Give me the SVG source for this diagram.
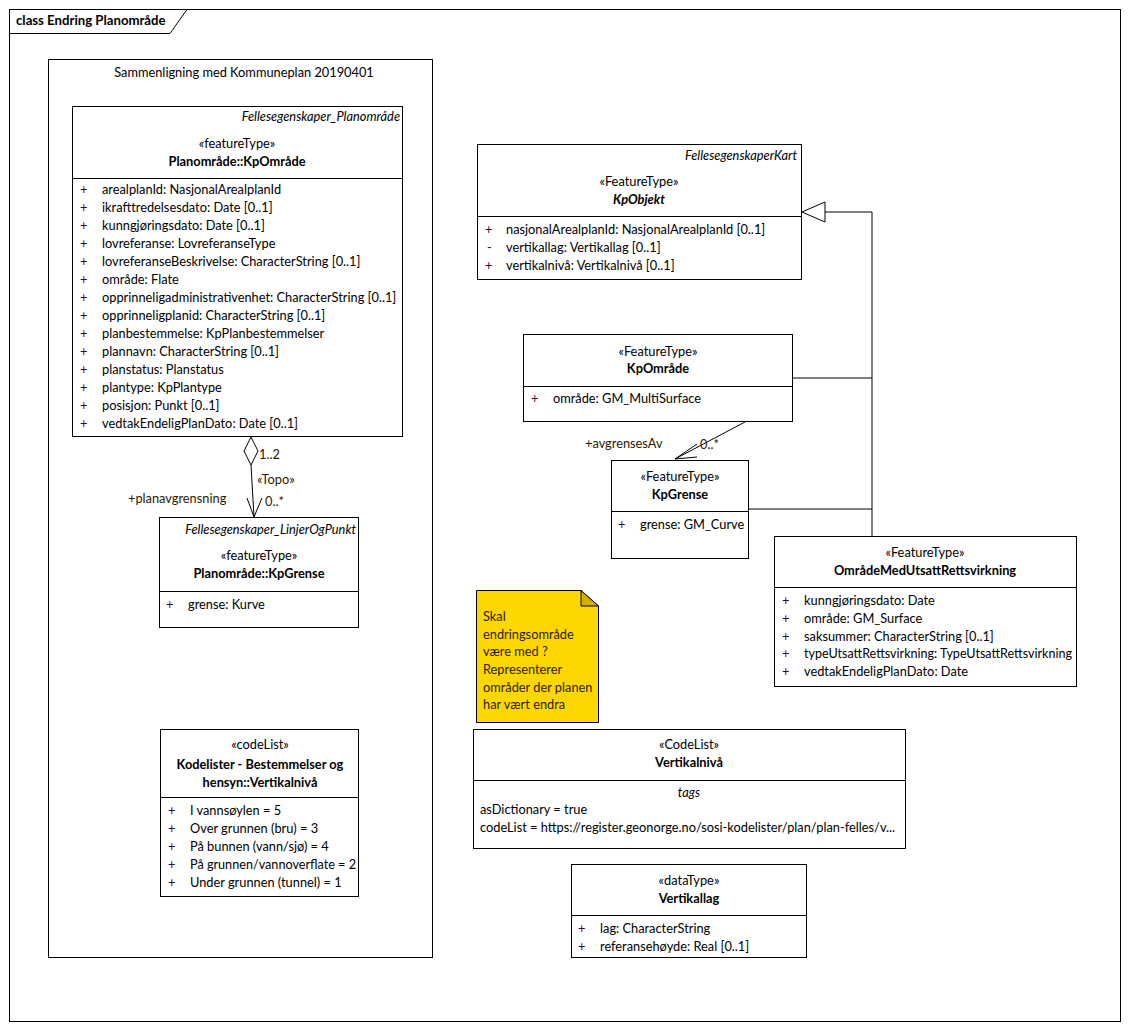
<svg xmlns="http://www.w3.org/2000/svg" width="1129" height="1030" viewBox="0 0 1129 1030">
<style>
text{font-family:Lato,"Liberation Sans",sans-serif;font-size:12.8px;fill:#000}
.b{font-weight:bold}
.i{font-style:italic}
.c{text-anchor:middle}
.r{text-anchor:end}
.p{fill:#3c0038}
.box{fill:#fff;stroke:#000;stroke-width:1}
.ln{fill:none;stroke:#000;stroke-width:1}
.lbl{fill:#2a1a00}
</style>
<rect x="0" y="0" width="1129" height="1030" fill="#fff"/>
<g id="frame">
<rect x="9.5" y="9.5" width="1111" height="1012" class="ln"/>
<path d="M9.5,33.5 H170 L187,9.5" class="ln"/>
<text x="16" y="25" class="b" style="font-size:13.2px">class Endring Planområde</text>
</g>
<g id="package">
<rect x="48.5" y="59.5" width="384" height="898" class="ln"/>
<text x="244" y="77" class="c">Sammenligning med Kommuneplan 20190401</text>
</g>
<g id="connectors">
<path d="M251,437 L258,451 L251,465 L244,451 Z" class="box"/>
<path d="M251,465 L254,517" class="ln"/>
<path d="M247,498 L254,517 L262,498" class="ln"/>
<text x="259" y="459" class="lbl">1..2</text>
<text x="257" y="484" class="lbl">«Topo»</text>
<text x="265" y="506" class="lbl">0..*</text>
<text x="128" y="503" class="lbl">+planavgrensning</text>
<path d="M745,422 L675,459" class="ln"/>
<path d="M697,444 L675,459 L697,457" class="ln"/>
<text x="585" y="448" class="lbl">+avgrensesAv</text>
<text x="700" y="449" class="lbl">0..*</text>
<path d="M872,537 V212 H825" class="ln"/>
<path d="M793,378 H872 M748,509 H872" class="ln"/>
<path d="M802,212 L825,202 L825,222 Z" class="box"/>
</g>
<g id="planomrade-kpomrade">
<rect x="72.5" y="106.5" width="330" height="330" class="box"/>
<line x1="72.5" y1="178.5" x2="402.5" y2="178.5" class="ln"/>
<text x="400" y="121" class="r i">Fellesegenskaper_Planområde</text>
<text x="237" y="148" class="c">«featureType»</text>
<text x="237" y="166" class="c b">Planområde::KpOmråde</text>
<g>
<text x="80" y="194" class="p">+</text><text x="102" y="194">arealplanId: NasjonalArealplanId</text>
<text x="80" y="212" class="p">+</text><text x="102" y="212">ikrafttredelsesdato: Date [0..1]</text>
<text x="80" y="230" class="p">+</text><text x="102" y="230">kunngjøringsdato: Date [0..1]</text>
<text x="80" y="248" class="p">+</text><text x="102" y="248">lovreferanse: LovreferanseType</text>
<text x="80" y="266" class="p">+</text><text x="102" y="266">lovreferanseBeskrivelse: CharacterString [0..1]</text>
<text x="80" y="284" class="p">+</text><text x="102" y="284">område: Flate</text>
<text x="80" y="302" class="p">+</text><text x="102" y="302">opprinneligadministrativenhet: CharacterString [0..1]</text>
<text x="80" y="320" class="p">+</text><text x="102" y="320">opprinneligplanid: CharacterString [0..1]</text>
<text x="80" y="338" class="p">+</text><text x="102" y="338">planbestemmelse: KpPlanbestemmelser</text>
<text x="80" y="356" class="p">+</text><text x="102" y="356">plannavn: CharacterString [0..1]</text>
<text x="80" y="374" class="p">+</text><text x="102" y="374">planstatus: Planstatus</text>
<text x="80" y="392" class="p">+</text><text x="102" y="392">plantype: KpPlantype</text>
<text x="80" y="410" class="p">+</text><text x="102" y="410">posisjon: Punkt [0..1]</text>
<text x="80" y="428" class="p">+</text><text x="102" y="428">vedtakEndeligPlanDato: Date [0..1]</text>
</g>
</g>
<g id="planomrade-kpgrense">
<rect x="159.5" y="517.5" width="199" height="110" class="box"/>
<line x1="159.5" y1="591.5" x2="358.5" y2="591.5" class="ln"/>
<text x="356" y="534" class="r i">Fellesegenskaper_LinjerOgPunkt</text>
<text x="259" y="560" class="c">«featureType»</text>
<text x="259" y="578" class="c b">Planområde::KpGrense</text>
<text x="166" y="609" class="p">+</text><text x="188" y="609">grense: Kurve</text>
</g>
<g id="kodelister-vertikalniva">
<rect x="160.5" y="729.5" width="198" height="167" class="box"/>
<line x1="160.5" y1="797.5" x2="358.5" y2="797.5" class="ln"/>
<text x="260" y="749" class="c">«codeList»</text>
<text x="260" y="769" class="c b">Kodelister - Bestemmelser og</text>
<text x="260" y="787" class="c b">hensyn::Vertikalnivå</text>
<text x="168" y="815" class="p">+</text><text x="190" y="815">I vannsøylen = 5</text>
<text x="168" y="833" class="p">+</text><text x="190" y="833">Over grunnen (bru) = 3</text>
<text x="168" y="851" class="p">+</text><text x="190" y="851">På bunnen (vann/sjø) = 4</text>
<text x="168" y="869" class="p">+</text><text x="190" y="869" textLength="166" lengthAdjust="spacingAndGlyphs">På grunnen/vannoverflate = 2</text>
<text x="168" y="887" class="p">+</text><text x="190" y="887">Under grunnen (tunnel) = 1</text>
</g>
<g id="kpobjekt">
<rect x="477.5" y="144.5" width="324" height="135" class="box"/>
<line x1="477.5" y1="216.5" x2="801.5" y2="216.5" class="ln"/>
<text x="797" y="160" class="r i">FellesegenskaperKart</text>
<text x="639" y="186" class="c">«FeatureType»</text>
<text x="639" y="204" class="c b i">KpObjekt</text>
<text x="485" y="234" class="p">+</text><text x="506" y="234">nasjonalArealplanId: NasjonalArealplanId [0..1]</text>
<text x="487" y="252" class="p">-</text><text x="506" y="252">vertikallag: Vertikallag [0..1]</text>
<text x="485" y="270" class="p">+</text><text x="506" y="270">vertikalnivå: Vertikalnivå [0..1]</text>
</g>
<g id="kpomrade">
<rect x="523.5" y="334.5" width="269" height="87" class="box"/>
<line x1="523.5" y1="386.5" x2="792.5" y2="386.5" class="ln"/>
<text x="658" y="356" class="c">«FeatureType»</text>
<text x="658" y="373" class="c b">KpOmråde</text>
<text x="531" y="403" class="p">+</text><text x="553" y="403">område: GM_MultiSurface</text>
</g>
<g id="kpgrense">
<rect x="611.5" y="460.5" width="137" height="98" class="box"/>
<line x1="611.5" y1="511.5" x2="748.5" y2="511.5" class="ln"/>
<text x="680" y="481" class="c">«FeatureType»</text>
<text x="680" y="499" class="c b">KpGrense</text>
<text x="618" y="529" class="p">+</text><text x="640" y="529">grense: GM_Curve</text>
</g>
<g id="omrade-med-utsatt-rettsvirkning">
<rect x="774.5" y="536.5" width="302" height="150" class="box"/>
<line x1="774.5" y1="587.5" x2="1076.5" y2="587.5" class="ln"/>
<text x="925" y="557" class="c">«FeatureType»</text>
<text x="925" y="575" class="c b">OmrådeMedUtsattRettsvirkning</text>
<text x="782" y="605" class="p">+</text><text x="804" y="605">kunngjøringsdato: Date</text>
<text x="782" y="623" class="p">+</text><text x="804" y="623">område: GM_Surface</text>
<text x="782" y="641" class="p">+</text><text x="804" y="641">saksummer: CharacterString [0..1]</text>
<text x="782" y="658" class="p">+</text><text x="804" y="658" textLength="268" lengthAdjust="spacingAndGlyphs">typeUtsattRettsvirkning: TypeUtsattRettsvirkning</text>
<text x="782" y="676" class="p">+</text><text x="804" y="676">vedtakEndeligPlanDato: Date</text>
</g>
<g id="note">
<path d="M476.5,590.5 H581 L598.5,606 V722.5 H476.5 Z" fill="#FFD700" stroke="#000"/>
<path d="M581,590.5 V606 H598.5 Z" fill="#D4AF00" stroke="#000"/>
<text x="483" y="621" class="lbl">Skal</text>
<text x="483" y="639" class="lbl">endringsområde</text>
<text x="483" y="656" class="lbl">være med ?</text>
<text x="483" y="674" class="lbl">Representerer</text>
<text x="483" y="692" class="lbl">områder der planen</text>
<text x="483" y="709" class="lbl">har vært endra</text>
</g>
<g id="vertikalniva">
<rect x="473.5" y="729.5" width="432" height="119" class="box"/>
<line x1="473.5" y1="780.5" x2="905.5" y2="780.5" class="ln"/>
<text x="689" y="749" class="c">«CodeList»</text>
<text x="689" y="767" class="c b">Vertikalnivå</text>
<text x="689" y="797" class="c i">tags</text>
<text x="480" y="814">asDictionary = true</text>
<text x="480" y="832">codeList = https://register.geonorge.no/sosi-kodelister/plan/plan-felles/v...</text>
</g>
<g id="vertikallag">
<rect x="571.5" y="864.5" width="235" height="93" class="box"/>
<line x1="571.5" y1="915.5" x2="806.5" y2="915.5" class="ln"/>
<text x="689" y="885" class="c">«dataType»</text>
<text x="689" y="903" class="c b">Vertikallag</text>
<text x="578" y="933" class="p">+</text><text x="600" y="933">lag: CharacterString</text>
<text x="578" y="951" class="p">+</text><text x="600" y="951">referansehøyde: Real [0..1]</text>
</g>
</svg>
